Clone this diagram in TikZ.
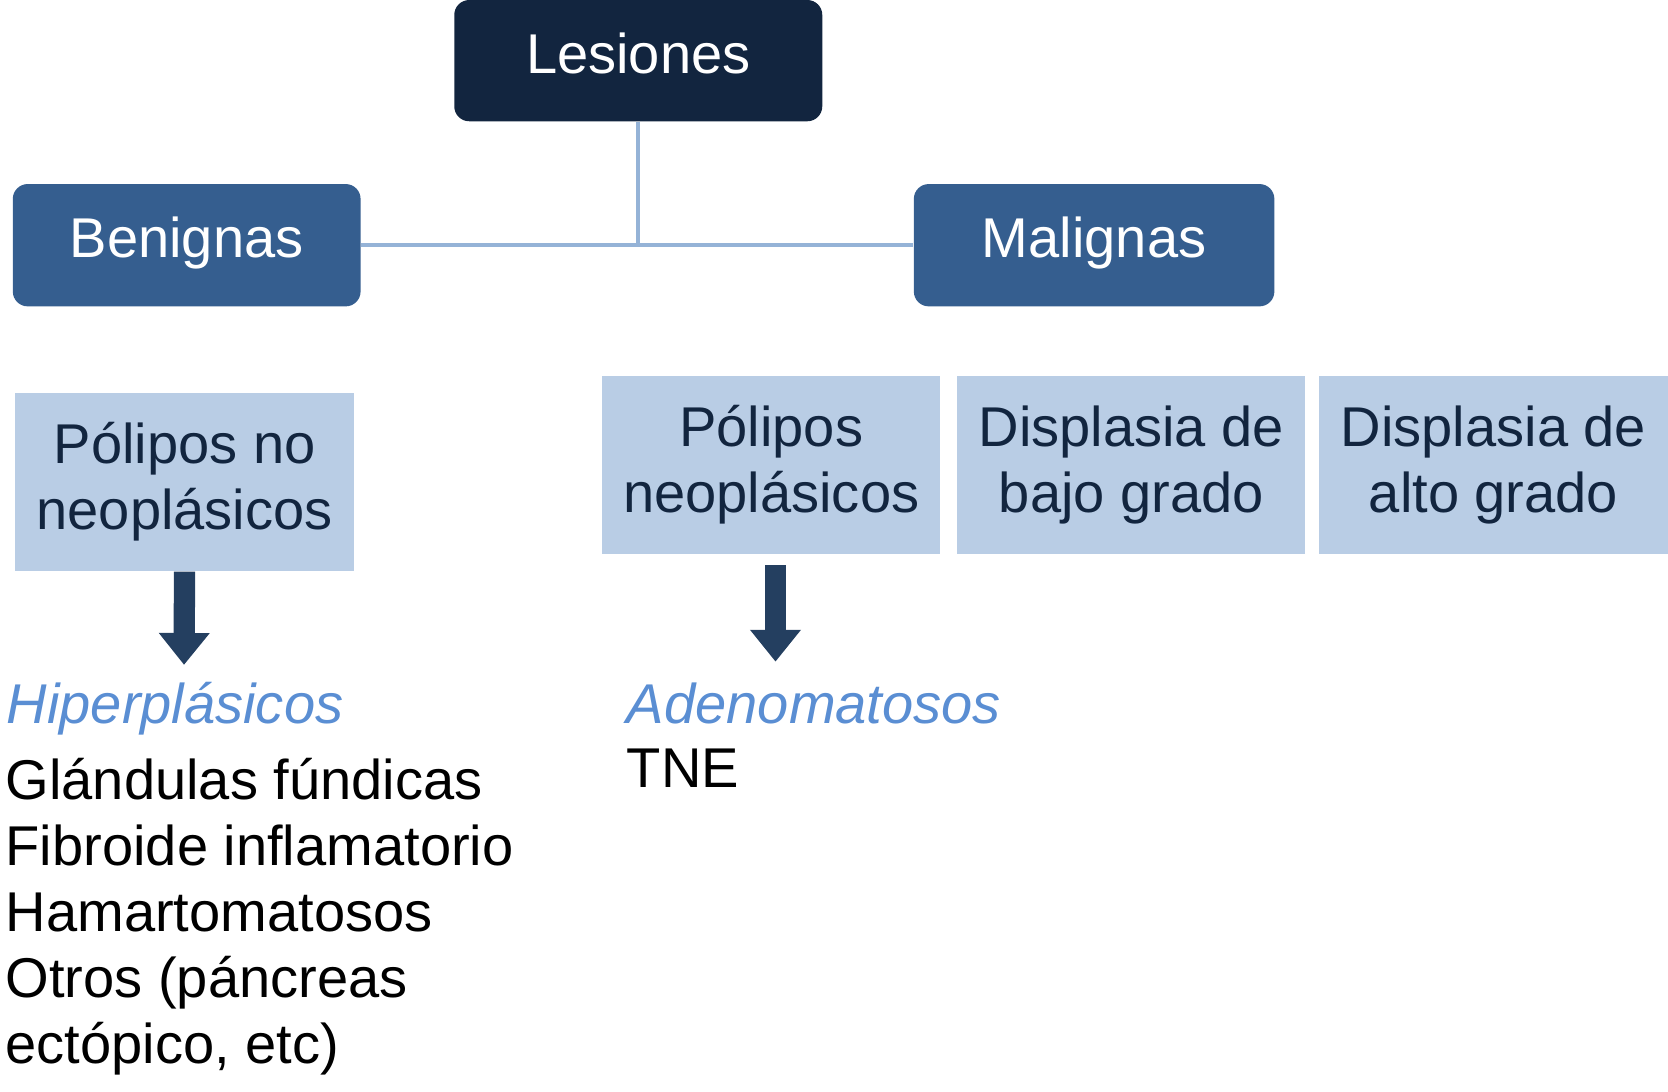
\documentclass[tikz,border=0pt]{standalone}
\usepackage{fontspec}
\setmainfont{Liberation Sans}
\usetikzlibrary{arrows.meta}
\definecolor{navy}{HTML}{12253F}
\definecolor{midblue}{HTML}{355E8F}
\definecolor{paleblue}{HTML}{B9CDE5}
\definecolor{linkblue}{HTML}{95B3D7}
\definecolor{arrowblue}{HTML}{243F60}
\definecolor{italblue}{HTML}{5A8ED3}
\begin{document}
\begin{tikzpicture}[x=0.02cm,y=-0.02cm,font=\fontsize{30}{35.3}\selectfont,
  catbox/.style={rounded corners=0.28cm,text=white,inner sep=0pt,minimum height=2.3cm,text height=22.5pt,text depth=9pt},
  subbox/.style={fill=paleblue,text=navy,align=center,inner sep=0pt,minimum height=3.36cm},
  link/.style={draw=linkblue,line width=0.08cm},
  bigarrow/.style={draw=arrowblue,line width=0.4cm,-{Triangle[width=0.92cm,length=0.6cm]}},
  plain/.style={inner sep=0pt,anchor=base west,align=left}]
  \useasboundingbox (0,0) rectangle (1568,1025.6);
  \node[catbox,fill=navy,minimum width=6.92cm,minimum height=2.28cm] (lesiones) at (600,57) {Lesiones};
  \node[catbox,fill=midblue,minimum width=6.54cm] (benignas) at (175.5,230.5) {Benignas};
  \node[catbox,fill=midblue,minimum width=6.78cm] (malignas) at (1028.5,230.5) {Malignas};
  \draw[link] (lesiones.south) -- (lesiones.south |- benignas.east);
  \draw[link] (benignas.east) -- (malignas.west);
  \node[subbox,minimum width=6.38cm] (pnn) at (173.5,453) {Pólipos no\\neoplásicos};
  \node[subbox,minimum width=6.36cm] (pn) at (725,437) {Pólipos\\neoplásicos};
  \node[subbox,minimum width=6.54cm] (dbg) at (1063.5,437) {Displasia de\\bajo grado};
  \node[subbox,minimum width=6.56cm] (dag) at (1404,437) {Displasia de\\alto grado};
  \node[plain,text=italblue,font=\fontsize{30}{35.3}\selectfont\itshape] (hiper) at (6,680) {Hiperplásicos};
  \node[plain,text=italblue,font=\fontsize{30}{35.3}\selectfont\itshape] (adeno) at (589,680) {Adenomatosos};
  \node[plain] (tne) at (589,740) {TNE};
  \node[plain] (lista) at (5,1000) {Glándulas fúndicas\\Fibroide inflamatorio\\Hamartomatosos\\Otros (páncreas\\ectópico, etc)};
  \coordinate (tipl) at (173,625);
  \coordinate (tipr) at (729,622);
  \draw[bigarrow] (pnn.south) -- (tipl);
  \draw[bigarrow] (pn.south) ++(4,10) coordinate (startr) -- (tipr);
\end{tikzpicture}
\end{document}
